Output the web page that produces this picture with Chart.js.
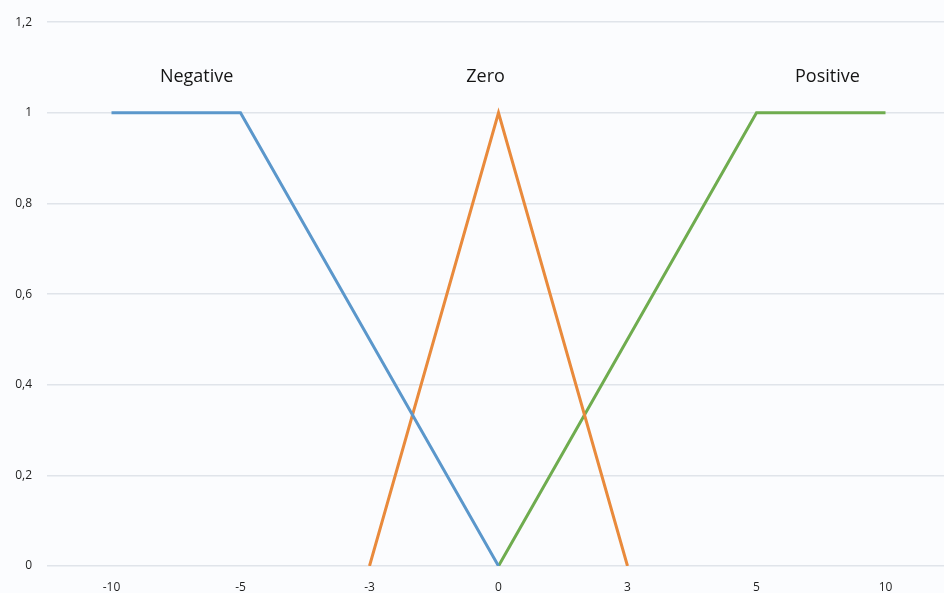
<!DOCTYPE html>
<html>
<head>
<meta charset="utf-8">
<script src="https://cdn.jsdelivr.net/npm/chart.js@4/dist/chart.umd.min.js"></script>
<style>
  html, body { margin: 0; padding: 0; background: #fbfcfe; overflow: hidden; }
  #wrap { width: 952px; height: 593px; }
</style>
</head>
<body>
<div id="wrap"><canvas id="c" width="952" height="593"></canvas></div>
<script>
// Input universe (category axis)
const categories = ['-10', '-5', '-3', '0', '3', '5', '10'];

// Membership degrees; null where a set has no breakpoint (line spans over it)
const negativeSet = [1, 1, null, 0, null, null, null];
const zeroSet     = [null, null, 0, 1, 0, null, null];
const positiveSet = [null, null, null, 0, null, 1, 1];

const setNames = ['Negative', 'Zero', 'Positive'];
const yTicks = [0, 0.2, 0.4, 0.6, 0.8, 1, 1.2];

// Where each set name sits: fractional category index and membership height
const nameAnchors = [[0.66, 1.08], [2.9, 1.08], [5.55, 1.08]];

const gridColor = '#e0e4ea';
const textColor = '#1f1f1f';

const setNamePlugin = {
  id: 'setNames',
  afterDatasetsDraw(chart) {
    const ctx = chart.ctx;
    const xs = chart.scales.x, ys = chart.scales.y;
    ctx.save();
    ctx.font = '18px "Open Sans", sans-serif';
    ctx.fillStyle = '#141414';
    ctx.textAlign = 'center';
    ctx.textBaseline = 'middle';
    setNames.forEach((name, i) => {
      const [ix, v] = nameAnchors[i];
      ctx.fillText(name, xs.getPixelForValue(ix), ys.getPixelForValue(v));
    });
    ctx.restore();
  }
};

new Chart(document.getElementById('c'), {
  type: 'line',
  data: {
    labels: categories,
    datasets: [
      { label: setNames[0], data: negativeSet, borderColor: '#5b97cb' },
      { label: setNames[1], data: zeroSet,     borderColor: '#e98a3c' },
      { label: setNames[2], data: positiveSet, borderColor: '#6fac4f' }
    ].map(d => Object.assign(d, {
      borderWidth: 3, pointRadius: 0, pointHoverRadius: 0, tension: 0,
      spanGaps: true, fill: false, borderCapStyle: 'butt'
    }))
  },
  options: {
    responsive: false,
    animation: false,
    layout: { padding: { top: 20, right: 2, bottom: 0, left: 0 } },
    plugins: { legend: { display: false }, tooltip: { enabled: false } },
    scales: {
      x: {
        offset: true,
        grid: { display: false, drawTicks: false },
        border: { display: false },
        ticks: { color: textColor, font: { family: '"Open Sans", sans-serif', size: 12 }, padding: 14, maxRotation: 0 },
        afterFit(s) { s.height = 27; }
      },
      y: {
        min: 0, max: 1.2,
        afterBuildTicks(s) { s.ticks = yTicks.map(v => ({ value: v })); },
        grid: { color: gridColor, lineWidth: 1.5, drawTicks: false },
        border: { display: false },
        ticks: {
          color: textColor,
          font: { family: '"Open Sans", sans-serif', size: 12 },
          padding: 15,
          callback: v => String(Math.round(v * 10) / 10).replace('.', ',')
        },
        afterFit(s) { s.width = 47; }
      }
    }
  },
  plugins: [setNamePlugin]
});
</script>
</body>
</html>
